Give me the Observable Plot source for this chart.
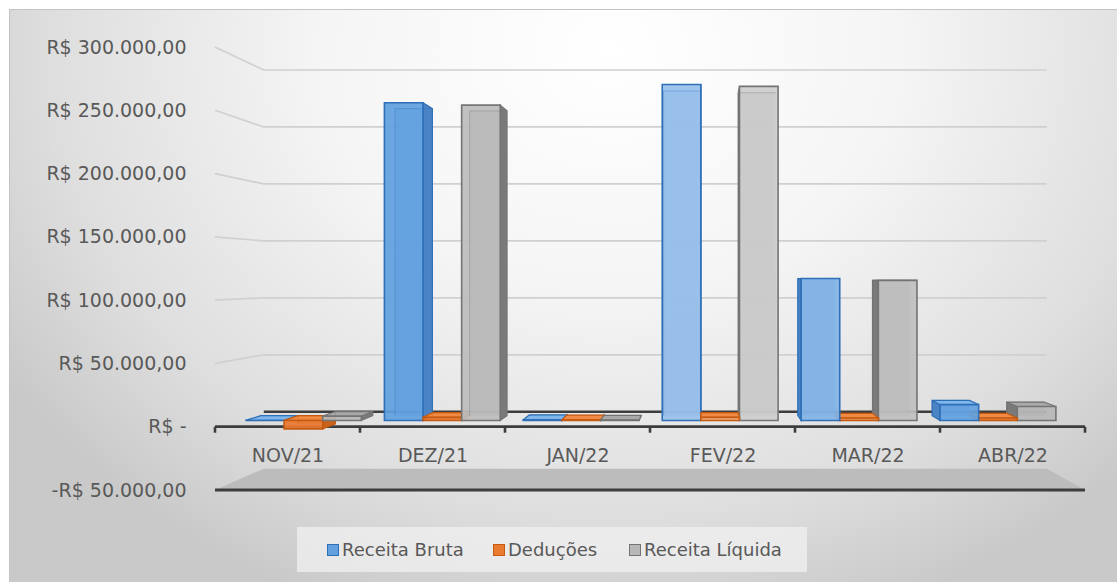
<!DOCTYPE html>
<html><head><meta charset="utf-8">
<script src="https://cdn.jsdelivr.net/npm/d3@7"></script>
<script src="https://cdn.jsdelivr.net/npm/@observablehq/plot@0.6"></script>
<style>
body{margin:0;background:#fff;}
#wrap{position:relative;width:1117px;height:582px;overflow:hidden;font-family:"DejaVu Sans",sans-serif;}
#frame{position:absolute;left:9px;top:9px;right:0;bottom:0;
  background:radial-gradient(ellipse 720px 600px at 600px 40px,#ffffff 0%,#f5f5f5 40%,#dedede 78%,#c9c9c9 100%);
  border-top:1px solid #c4c4c4;border-left:1px solid #c4c4c4;}
#chart{position:relative;}
#legend{position:absolute;left:297px;top:527px;width:510px;height:45px;background:rgba(240,240,240,0.75);}
.item{position:absolute;top:0;height:45px;display:flex;align-items:center;font-size:18px;color:#595959;white-space:nowrap;}
.sw{width:10px;height:10px;margin-right:3px;border:1.5px solid;}
</style></head><body>
<div id="wrap"><div id="frame"></div><div id="chart"></div><div id="legend"></div></div>
<script>
// ---- data ----
const months = ["NOV/21","DEZ/21","JAN/22","FEV/22","MAR/22","ABR/22"];
const seriesNames = ["Receita Bruta","Deduções","Receita Líquida"];
const receitaBruta   = [0, 262000, 600, 277000, 117000, 13000];
const deducoes       = [-7000, 2500, 400, 2500, 2000, 2000];
const receitaLiquida = [3500, 260000, 300, 275500, 115500, 11500];
const yTicks = [-50000, 0, 50000, 100000, 150000, 200000, 250000, 300000];
const yTickLabels = ["-R$ 50.000,00","R$ -","R$ 50.000,00","R$ 100.000,00","R$ 150.000,00","R$ 200.000,00","R$ 250.000,00","R$ 300.000,00"];

const seriesValues = [receitaBruta, deducoes, receitaLiquida];
const table = months.flatMap((m, i) => seriesNames.map((s, k) => ({month: m, series: s, value: seriesValues[k][i]})));

// ---- styling / pseudo-3D projection ----
const CX = 703, CY = 277;           // vanishing centre
const FRONT = 0.958, BACK = 0.926, WALL = 0.9;
const P = (x, y, s) => [CX + (x - CX) * s, CY + (y - CY) * s];
const poly = pts => "M" + pts.map(p => p[0].toFixed(2) + "," + p[1].toFixed(2)).join("L") + "Z";
const palette = {
  "Receita Bruta":   {front: "#62a0e0", side: "#4a84c4", top: "#7fb6ec", stroke: "#2e6fb7"},
  "Deduções":        {front: "#ea7a30", side: "#c9611d", top: "#f08b45", stroke: "#c55a11"},
  "Receita Líquida": {front: "#b8b8b8", side: "#7a7a7a", top: "#a9a9a9", stroke: "#747474"}
};
const textColor = "#595959";

function bandInfo(scales) {
  const bw = scales.x(months[1]) - scales.x(months[0]);
  const xL = scales.x(months[0]);
  const xR = scales.x(months[months.length - 1]) + bw;
  return {bw, xL, xR};
}

// floor, back wall gridlines
function backdrop(index, scales) {
  const g = d3.create("svg:g");
  const {xL, xR} = bandInfo(scales);
  const yMin = scales.y(yTicks[0]);
  g.append("path").attr("d", poly([[xL, yMin], [xR, yMin], P(xR, yMin, WALL), P(xL, yMin, WALL)]))
    .attr("fill", "#bcbcbc");
  for (const v of yTicks) {
    const y = scales.y(v);
    if (v > 0) {
      const a = P(xL, y, WALL), b = P(xR, y, WALL);
      g.append("path").attr("d", `M${xL},${y}L${a[0]},${a[1]}L${b[0]},${b[1]}`)
        .attr("fill", "none").attr("stroke", "#d0d0d0").attr("stroke-width", 1.7);
    } else if (v === 0) {
      const a = P(xL, y, WALL), b = P(xR, y, WALL);
      g.append("path").attr("d", `M${a[0]},${a[1]}L${b[0]},${b[1]}`)
        .attr("stroke", "#3d3d3d").attr("stroke-width", 2.6);
    }
  }
  g.append("path").attr("d", `M${xL},${yMin}L${xR},${yMin}`).attr("stroke", "#3d3d3d").attr("stroke-width", 2.8);
  return g.node();
}

function frontAxis(index, scales) {
  const g = d3.create("svg:g");
  const {bw, xL, xR} = bandInfo(scales);
  const y0 = scales.y(0);
  g.append("path").attr("d", `M${xL},${y0}L${xR},${y0}`).attr("stroke", "#3d3d3d").attr("stroke-width", 2.8);
  for (let i = 0; i <= months.length; i++) {
    const x = xL + i * bw;
    g.append("path").attr("d", `M${x},${y0}L${x},${y0 + 6}`).attr("stroke", "#3d3d3d").attr("stroke-width", 2.6);
  }
  return g.node();
}

function bars3D(index, scales, values) {
  const g = d3.create("svg:g");
  const {bw} = bandInfo(scales);
  const y0 = scales.y(0);
  const items = Array.from(index, i => {
    const d = table[i];
    const k = seriesNames.indexOf(d.series);
    const X0 = scales.x(d.month) + bw * 0.072 + k * bw * 0.278;
    return {d, i, X0, X1: X0 + bw * 0.278, Yv: scales.y(d.value)};
  });
  items.sort((a, b) => Math.abs((b.X0 + b.X1) / 2 - CX) - Math.abs((a.X0 + a.X1) / 2 - CX));
  for (const it of items) {
    const pal = palette[it.d.series];
    const top = Math.min(it.Yv, y0), bot = Math.max(it.Yv, y0);
    const f = [P(it.X0, top, FRONT), P(it.X1, top, FRONT), P(it.X1, bot, FRONT), P(it.X0, bot, FRONT)];
    const b = [P(it.X0, top, BACK), P(it.X1, top, BACK), P(it.X1, bot, BACK), P(it.X0, bot, BACK)];
    // lighting: faces near the view centre look lighter
    const light = Math.max(0, 1 - Math.abs((f[0][0] + f[1][0]) / 2 - CX) / 260) * 0.38;
    const base = values.fill ? values.fill[it.i] : pal.front;
    const frontFill = d3.interpolateRgb(base, "#ffffff")(light);
    g.append("path").attr("d", poly(b)).attr("fill", pal.side).attr("fill-opacity", 0.6);
    if (it.X1 < CX) g.append("path").attr("d", poly([f[1], b[1], b[2], f[2]])).attr("fill", pal.side).attr("stroke", pal.stroke).attr("stroke-width", 1.2);
    if (it.X0 > CX) g.append("path").attr("d", poly([f[0], b[0], b[3], f[3]])).attr("fill", pal.side).attr("stroke", pal.stroke).attr("stroke-width", 1.2);
    if (top > CY) g.append("path").attr("d", poly([f[0], f[1], b[1], b[0]])).attr("fill", pal.top).attr("stroke", pal.stroke).attr("stroke-width", 1.2);
    g.append("path").attr("d", poly(f)).attr("fill", frontFill)
      .attr("fill-opacity", 0.93).attr("stroke", pal.stroke).attr("stroke-width", 1.6);
    g.append("path").attr("d", `M${b[3][0]},${b[3][1]}L${b[0][0]},${b[0][1]}L${b[1][0]},${b[1][1]}`)
      .attr("fill", "none").attr("stroke", pal.stroke).attr("stroke-opacity", 0.35).attr("stroke-width", 1);
  }
  return g.node();
}

const chart = Plot.plot({
  width: 1117, height: 520,
  marginLeft: 213, marginRight: 30, marginTop: 47, marginBottom: 30,
  x: {type: "band", domain: months, paddingInner: 0, paddingOuter: 0, axis: null},
  y: {domain: [yTicks[0], yTicks[yTicks.length - 1]], axis: null, label: null},
  color: {domain: seriesNames, range: seriesNames.map(s => palette[s].front)},
  style: {background: "transparent", fontFamily: "'DejaVu Sans', sans-serif", color: textColor, overflow: "visible"},
  marks: [
    Plot.ruleY(yTicks, {render: backdrop}),
    Plot.ruleY([0], {render: frontAxis}),
    Plot.barY(table, {x: "month", y1: 0, y2: "value", fill: "series", render: bars3D}),
    Plot.axisY(yTicks, {tickFormat: d => yTickLabels[yTicks.indexOf(d)], tickSize: 0, tickPadding: 27, fontSize: 19, fill: textColor, label: null}),
    Plot.text(months, {x: d => d, y: () => 0, dy: 29, fontSize: 19, fill: textColor})
  ]
});
document.getElementById("chart").appendChild(chart);

// legend (HTML, below the svg)
const legend = document.getElementById("legend");
const legendLeft = [30, 196, 332];
seriesNames.forEach((s, k) => {
  const item = document.createElement("div");
  item.className = "item";
  item.style.left = legendLeft[k] + "px";
  const sw = document.createElement("span");
  sw.className = "sw";
  sw.style.background = palette[s].front;
  sw.style.borderColor = palette[s].stroke;
  item.appendChild(sw);
  item.appendChild(document.createTextNode(s));
  legend.appendChild(item);
});
</script></body></html>
